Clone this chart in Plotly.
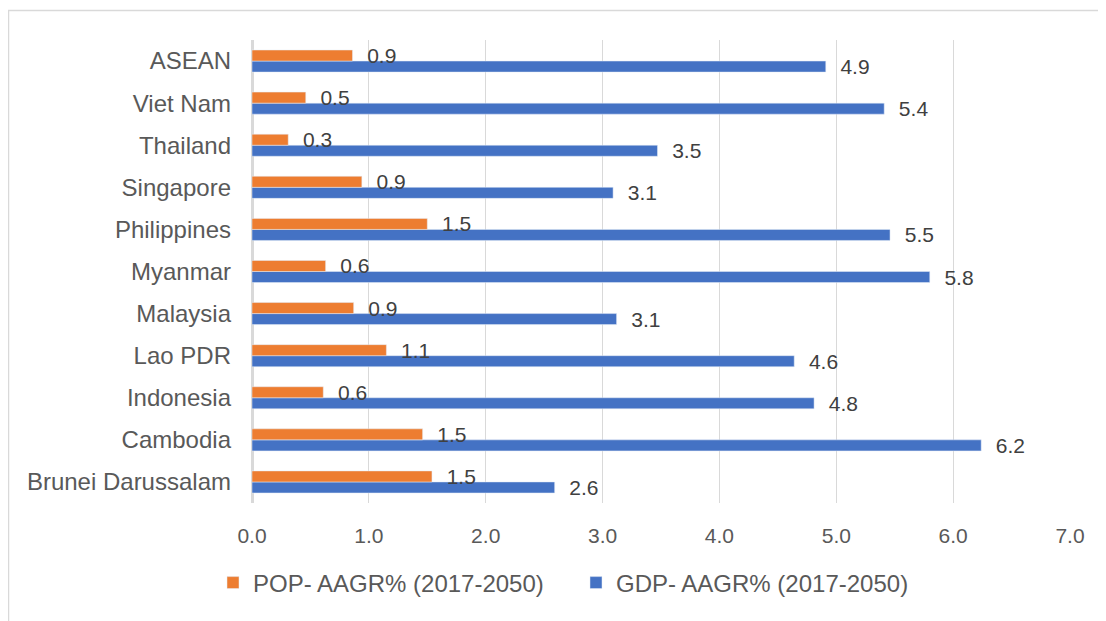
import plotly.graph_objects as go

# data (bottom -> top)
countries = ["Brunei Darussalam", "Cambodia", "Indonesia", "Lao PDR", "Malaysia",
             "Myanmar", "Philippines", "Singapore", "Thailand", "Viet Nam", "ASEAN"]
pop_aagr = [1.54, 1.46, 0.61, 1.15, 0.87, 0.63, 1.50, 0.94, 0.31, 0.46, 0.86]
gdp_aagr = [2.59, 6.24, 4.81, 4.64, 3.12, 5.80, 5.46, 3.09, 3.47, 5.41, 4.91]

pop_name = "POP- AAGR% (2017-2050)"
gdp_name = "GDP- AAGR% (2017-2050)"

FONT = "Liberation Sans, Arial, sans-serif"
GREY = "#595959"

# the page body keeps its 8px default margin, so the figure is 8px smaller
W, H = 1098, 613

fig = go.Figure()

# blue first so it sits below the orange bar inside each group
fig.add_trace(go.Bar(
    y=countries, x=gdp_aagr, orientation="h", name=gdp_name,
    marker=dict(color="#4472C4"), legendrank=2,
    texttemplate="\u00a0\u00a0%{x:.1f}", textposition="outside",
    constraintext="none", cliponaxis=False,
    textfont=dict(size=21, color="#404040", family=FONT),
))
fig.add_trace(go.Bar(
    y=countries, x=pop_aagr, orientation="h", name=pop_name,
    marker=dict(color="#ED7D31"), legendrank=1,
    texttemplate="\u00a0\u00a0%{x:.1f}", textposition="outside",
    constraintext="none", cliponaxis=False,
    textfont=dict(size=21, color="#404040", family=FONT),
))

fig.update_layout(
    width=W, height=H,
    margin=dict(l=244, r=36, t=32, b=118),
    barmode="group", bargap=0.476, bargroupgap=0,
    plot_bgcolor="white", paper_bgcolor="white",
    font=dict(family=FONT, color=GREY),
    legend=dict(orientation="h", xref="container", x=205 / W, xanchor="left",
                yref="container", y=38 / H, yanchor="middle",
                font=dict(size=24, color=GREY), itemwidth=30,
                entrywidth=318, entrywidthmode="pixels"),
    # light frame of the chart area (only top and left edges are visible)
    shapes=[dict(type="rect", xref="paper", yref="paper",
                 x0=-0.2977, x1=1.07, y0=-0.3, y1=1.0637,
                 line=dict(color="#d9d9d9", width=1.5), layer="below")],
)

fig.update_xaxes(
    range=[0, 7], dtick=1, tickformat=".1f", automargin=False,
    showgrid=True, gridcolor="#d9d9d9", gridwidth=1.3,
    zeroline=True, zerolinecolor="#d9d9d9", zerolinewidth=2.5,
    showline=False, ticks="", ticklabelstandoff=18,
    tickfont=dict(size=21, color=GREY),
)
fig.update_yaxes(
    showgrid=False, showline=False, ticks="", ticklabelstandoff=20,
    automargin=False, tickfont=dict(size=24, color=GREY),
)

fig.write_html("out.html")
